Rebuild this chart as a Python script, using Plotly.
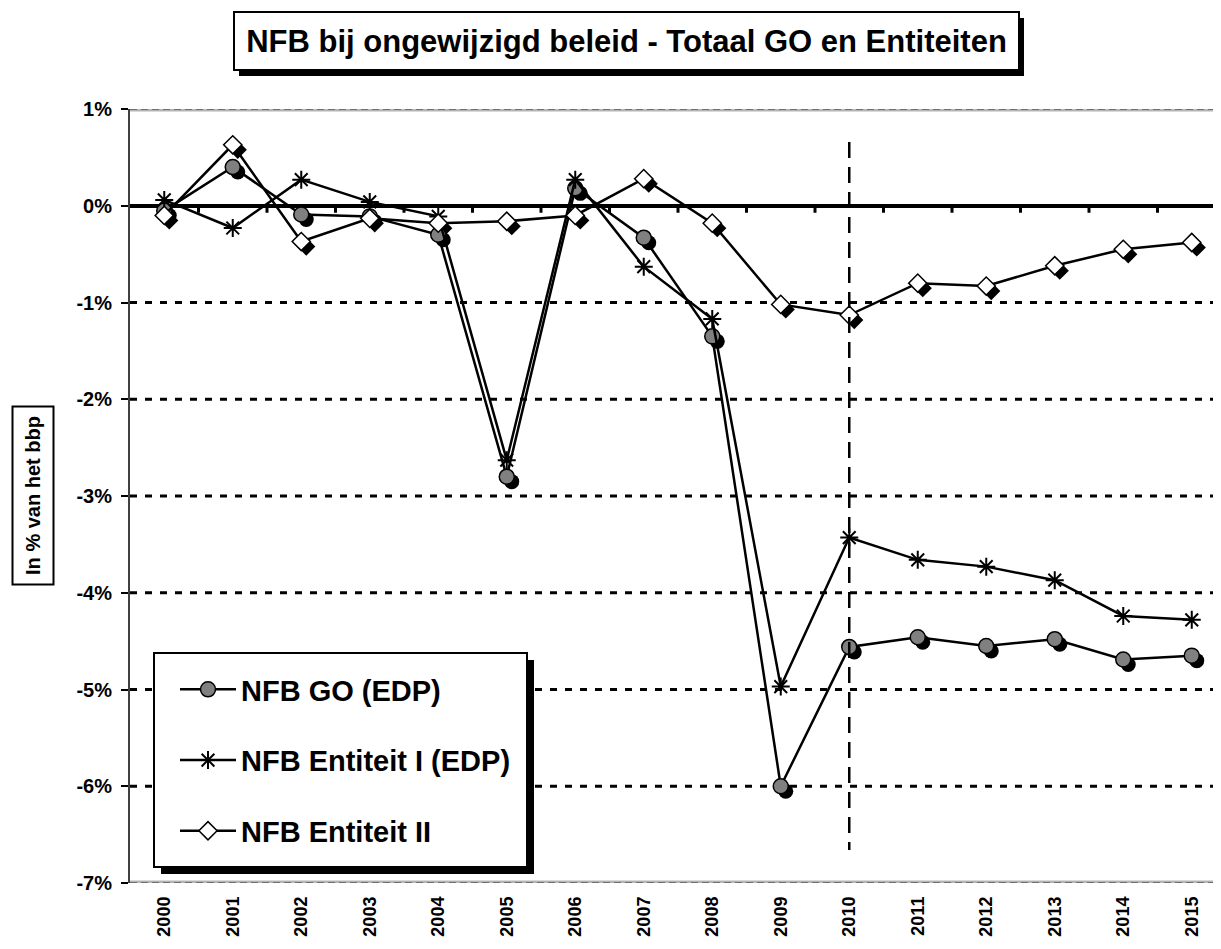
import plotly.graph_objects as go

years = ['2000', '2001', '2002', '2003', '2004', '2005', '2006', '2007',
         '2008', '2009', '2010', '2011', '2012', '2013', '2014', '2015']
nfb_go = [-0.05, 0.40, -0.09, -0.11, -0.30, -2.80, 0.18, -0.33,
          -1.35, -6.00, -4.56, -4.46, -4.55, -4.48, -4.69, -4.65]
nfb_ent1 = [0.06, -0.23, 0.27, 0.04, -0.11, -2.63, 0.27, -0.63,
            -1.17, -4.97, -3.43, -3.66, -3.73, -3.87, -4.24, -4.28]
nfb_ent2 = [-0.10, 0.63, -0.37, -0.13, -0.18, -0.16, -0.10, 0.28,
            -0.18, -1.02, -1.13, -0.80, -0.83, -0.62, -0.45, -0.38]
ytick_vals = [1, 0, -1, -2, -3, -4, -5, -6, -7]
ytick_text = ['1%', '0%', '-1%', '-2%', '-3%', '-4%', '-5%', '-6%', '-7%']
names = ['NFB GO (EDP)', 'NFB Entiteit I (EDP)', 'NFB Entiteit II']
title_text = 'NFB bij ongewijzigd beleid - Totaal GO en Entiteiten'
ytitle_text = 'In % van het bbp'
split_year = '2010'

FONT = 'Liberation Sans, Arial, sans-serif'
PAGE_W, PAGE_H = 1221, 949
BODY = 8  # default page body margin
W, H = PAGE_W - BODY, PAGE_H - BODY
PLOT_L, PLOT_T, PLOT_B = 130, 109, 883  # page pixel positions of plot area
ML, MR, MT, MB = PLOT_L - BODY, 0, PLOT_T - BODY, PAGE_H - PLOT_B
PW, PH = W - ML - MR, H - MT - MB
cat_px = 68.5
x_range = [-0.5, -0.5 + PW / cat_px]
y_range = [-7, 1]
shadow_px = 5
dx = shadow_px / cat_px
dy = shadow_px * (y_range[1] - y_range[0]) / PH
tick_len = 7 * (y_range[1] - y_range[0]) / PH


def px_x(p):
    return (p - PLOT_L) / PW


def px_y(p):
    return (PLOT_B - p) / PH


fig = go.Figure()

# shadows (on shifted base axes)
fig.add_trace(go.Scatter(x=years, y=nfb_go, mode='markers', xaxis='x', yaxis='y',
                         marker=dict(symbol='circle', size=15, color='black'),
                         showlegend=False, hoverinfo='skip'))
fig.add_trace(go.Scatter(x=years, y=nfb_ent2, mode='markers', xaxis='x', yaxis='y',
                         marker=dict(symbol='diamond', size=14, color='black'),
                         showlegend=False, hoverinfo='skip'))

# main series
fig.add_trace(go.Scatter(x=years, y=nfb_go, mode='lines+markers', name=names[0],
                         xaxis='x2', yaxis='y2', legendgroup='a',
                         line=dict(color='black', width=2.5),
                         marker=dict(symbol='circle', size=15, color='#808080',
                                     line=dict(color='black', width=1.5))))
fig.add_trace(go.Scatter(x=years, y=nfb_ent1, mode='lines+markers', name=names[1],
                         xaxis='x2', yaxis='y2', legendgroup='b',
                         line=dict(color='black', width=2.5),
                         marker=dict(symbol='asterisk-open', size=15, color='black',
                                     line=dict(color='black', width=2))))
fig.add_trace(go.Scatter(x=years, y=nfb_ent2, mode='lines+markers', name=names[2],
                         xaxis='x2', yaxis='y2', legendgroup='c',
                         line=dict(color='black', width=2.5),
                         marker=dict(symbol='diamond', size=14, color='white',
                                     line=dict(color='black', width=1.5))))

shapes = []
# dotted gridlines
for v in ytick_vals:
    if v in (0, y_range[0], y_range[1]):
        continue
    shapes.append(dict(type='line', xref='paper', yref='y2', x0=0, x1=1, y0=v, y1=v,
                       layer='below', line=dict(color='black', width=3, dash='7px,8px')))
# top / bottom gray borders
for v in (y_range[0], y_range[1]):
    shapes.append(dict(type='line', xref='paper', yref='y2', x0=0, x1=1, y0=v, y1=v,
                       layer='below', line=dict(color='#b4b4b4', width=5)))
    shapes.append(dict(type='line', xref='paper', yref='y2', x0=0, x1=1, y0=v, y1=v,
                       layer='below', line=dict(color='#707070', width=2, dash='7px,4px')))
# small category-boundary tick marks hanging under the zero line
for i in range(len(years) - 1):
    shapes.append(dict(type='line', xref='x2', yref='y2', x0=i + 0.5, x1=i + 0.5,
                       y0=0, y1=-tick_len, layer='above',
                       line=dict(color='black', width=3)))
# vertical dashed line at 2010
split_idx = years.index(split_year)
shapes.append(dict(type='line', xref='x2', yref='y2', x0=split_idx, x1=split_idx,
                   y0=0.66, y1=-6.66, layer='above',
                   line=dict(color='black', width=2.5, dash='16px,9px')))
# legend box with shadow
shapes.append(dict(type='rect', xref='paper', yref='paper', layer='above',
                   x0=px_x(161), x1=px_x(534), y0=px_y(874), y1=px_y(660),
                   fillcolor='black', line=dict(width=0)))
shapes.append(dict(type='rect', xref='paper', yref='paper', layer='above',
                   x0=px_x(154), x1=px_x(527), y0=px_y(867), y1=px_y(653),
                   fillcolor='white', line=dict(color='black', width=2)))
# title shadow
shapes.append(dict(type='rect', xref='paper', yref='paper', layer='above',
                   x0=px_x(239), x1=px_x(1024), y0=px_y(76), y1=px_y(18),
                   fillcolor='black', line=dict(width=0)))

annotations = [
    dict(text=title_text, xref='paper', yref='paper', x=px_x(626), y=px_y(41),
         xanchor='center', yanchor='middle', showarrow=False,
         font=dict(family=FONT, size=31, color='black', weight='bold'),
         bgcolor='white', bordercolor='black', borderwidth=2, width=781, height=54),
    dict(text=ytitle_text, xref='paper', yref='paper', x=px_x(32.5), y=px_y(496),
         xanchor='center', yanchor='middle', showarrow=False, textangle=-90,
         font=dict(family=FONT, size=20, color='black', weight='bold'),
         bgcolor='white', bordercolor='black', borderwidth=2, width=174, height=37),
]

fig.update_layout(
    template='none',
    width=W, height=H,
    margin=dict(l=ML, r=MR, t=MT, b=MB, pad=0, autoexpand=False),
    paper_bgcolor='white', plot_bgcolor='rgba(0,0,0,0)',
    font=dict(family=FONT, color='black'),
    showlegend=True,
    legend=dict(x=px_x(175), y=px_y(664), xanchor='left', yanchor='top',
                bgcolor='rgba(0,0,0,0)', borderwidth=0, tracegroupgap=30,
                font=dict(family=FONT, size=29, color='black', weight='bold'),
                itemwidth=56),
    xaxis=dict(type='category', categoryarray=years, range=[x_range[0] - dx, x_range[1] - dx],
               visible=False, fixedrange=True, automargin=False),
    yaxis=dict(range=[y_range[0] + dy, y_range[1] + dy], visible=False, fixedrange=True,
               automargin=False),
    xaxis2=dict(type='category', categoryarray=years, range=x_range, overlaying='x',
                anchor='y2', side='bottom', showgrid=False, zeroline=False, showline=False,
                ticks='', tickangle=-90, automargin=False, ticklabelstandoff=9,
                tickfont=dict(family=FONT, size=18, color='black', weight='bold')),
    yaxis2=dict(range=y_range, overlaying='y', anchor='x2', side='left',
                tickvals=ytick_vals, ticktext=ytick_text, ticks='outside', ticklen=7,
                tickwidth=2, tickcolor='black', showline=True, linecolor='#404040',
                linewidth=2, showgrid=False, zeroline=True, zerolinecolor='black',
                zerolinewidth=4, automargin=False, ticklabelstandoff=5,
                tickfont=dict(family=FONT, size=20, color='black', weight='bold')),
    shapes=shapes,
    annotations=annotations,
)

fig.write_html('out.html')
